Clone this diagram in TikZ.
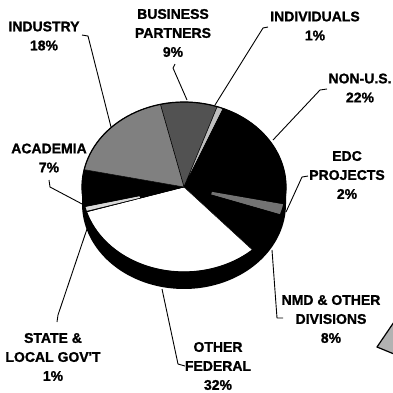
\documentclass[tikz,border=0pt]{standalone}
\usepackage{fontspec}
\setmainfont{Liberation Sans}
\newfontfamily\lblfont{Liberation Sans Bold}[FakeBold=1.2]
\begin{document}
\begin{tikzpicture}[x=1pt,y=-1pt,
  lbl/.style={font=\lblfont\fontsize{14}{19}\selectfont, align=center, inner sep=0pt},
  leader/.style={line width=0.9pt, line join=round},
  slice/.style={draw=black, line width=0.5pt}]
\useasboundingbox (0,0) rectangle (393,392);
\def\cx{184}\def\cy{187}\def\rx{102}\def\ry{85}\def\dep{17}
\newcommand\pieslice[3]{\filldraw[slice, fill=#3] (\cx,\cy) -- plot[domain=#1:#2, samples=40] ({\cx+\rx*cos(\x)},{\cy-\ry*sin(\x)}) -- cycle;}
\newcommand\partslice[4]{\fill[#4] ({\cx+#3*\rx*cos(#1)},{\cy-#3*\ry*sin(#1)}) -- plot[domain=#1:#2, samples=20] ({\cx+\rx*cos(\x)},{\cy-\ry*sin(\x)}) -- ({\cx+#3*\rx*cos(#2)},{\cy-#3*\ry*sin(#2)}) -- cycle;}
% side wall
\fill[black] (\cx-\rx,\cy) -- plot[domain=180:360, samples=80] ({\cx+\rx*cos(\x)},{\cy+\dep-\ry*sin(\x)}) -- (\cx+\rx,\cy) -- cycle;
% slices
\pieslice{71.0}{103.4}{black!68}
\pieslice{67.4}{71.0}{black!25}
\pieslice{-11.8}{67.4}{black}
\pieslice{-19.0}{-11.8}{black}
\partslice{-19.0}{-11.8}{0.28}{black!55}
\pieslice{-47.8}{-19.0}{black}
\pieslice{-163}{-47.8}{white}
\pieslice{-166.6}{-163}{black}
\partslice{-166.6}{-163.6}{0.45}{black!15}
\pieslice{-191.8}{-166.6}{black}
\pieslice{103.4}{168.2}{black!50}
\draw[line width=1.2pt] plot[domain=0:360, samples=120] ({\cx+\rx*cos(\x)},{\cy-\ry*sin(\x)}) -- cycle;
% labels
\node[lbl] (industry) at (44,36) {INDUSTRY\\18\%};
\node[lbl] (business) at (173,33) {BUSINESS\\PARTNERS\\9\%};
\node[lbl] (indiv) at (315,26) {INDIVIDUALS\\1\%};
\node[lbl] (nonus) at (360,88) {NON-U.S.\\22\%};
\node[lbl] (edc) at (347,175) {EDC\\PROJECTS\\2\%};
\node[lbl] (nmd) at (331,319) {NMD \& OTHER\\DIVISIONS\\8\%};
\node[lbl] (otherfed) at (218,366) {OTHER\\FEDERAL\\32\%};
\node[lbl] (state) at (53,357) {STATE \&\\LOCAL GOV'T\\1\%};
\node[lbl] (academia) at (49,158) {ACADEMIA\\7\%};
% leader end points
\coordinate (p-ind) at (111,127);
\coordinate (p-bus) at (187,100);
\coordinate (p-indiv) at (215,105);
\coordinate (p-non) at (273,140);
\coordinate (p-edc) at (286,212);
\coordinate (p-nmd) at (272,250);
\coordinate (p-of) at (162,289);
\coordinate (p-sl) at (88,226);
\coordinate (p-ac) at (84,205);
% leaders
\draw[leader] (82,35) -- (88,36) -- (p-ind);
\draw[leader] (175,64) -- (173,68) -- (p-bus);
\draw[leader] (268,27) -- (263,28) -- (p-indiv);
\draw[leader] (327,89) -- (320,90) -- (p-non);
\draw[leader] (308,176) -- (302,177) -- (p-edc);
\draw[leader] (p-nmd) -- (277,318) -- (283,318);
\draw[leader] (p-of) -- (178,364) -- (185,366);
\draw[leader] (p-sl) -- (58,315) -- (57,322);
\draw[leader] (49,180) -- (50,187) -- (p-ac);
% corner fragment
\filldraw[fill=black!30, draw=black, line width=1.2pt, line join=round] (394,322) -- (377,347) -- (394,354);
\end{tikzpicture}
\end{document}
